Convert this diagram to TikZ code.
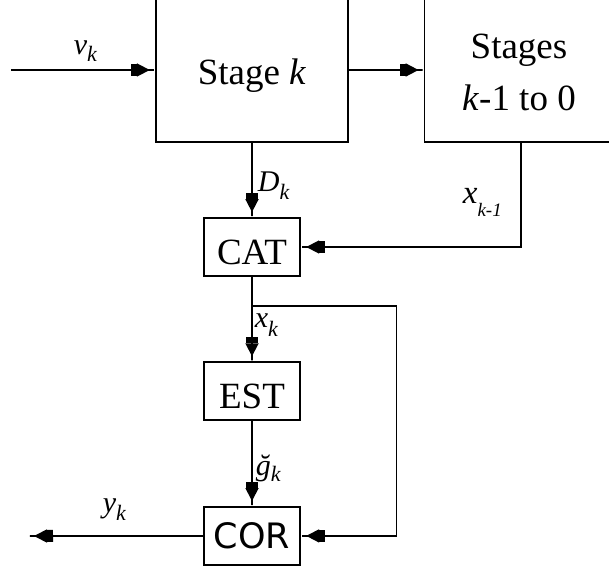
\documentclass[tikz,border=0pt]{standalone}
\usepackage{fontspec}
\setmainfont{Liberation Serif}
\newfontfamily\corfont{DejaVu Sans}
\usetikzlibrary{arrows.meta}
\newcommand\lowsub[3]{\raisebox{-#1}{\fontsize{#2}{#2}\selectfont\itshape #3}}
\begin{document}
\begin{tikzpicture}[x=1pt,y=-1pt, line width=1.8pt,
  box/.style={draw, line width=1.8pt, inner sep=0pt, font=\fontsize{37}{44}\selectfont},
  big/.style={box, minimum width=192.6pt, minimum height=144pt},
  small/.style={box, minimum width=96.6pt, minimum height=58pt, text height=34pt, text depth=0pt},
  lab/.style={anchor=base west, inner sep=0pt, font=\fontsize{30}{30}\selectfont\itshape},
  arr/.style={-{Rectangle[length=6pt,width=12pt,sep=0pt] Triangle[length=13pt,width=13pt,sep=0pt] Rectangle[length=5pt,width=1.8pt,sep=0pt]}}]
\useasboundingbox (0,0) rectangle (609,569);
\clip (0,0) rectangle (609,569);
% blocks
\node[big, text height=30pt, text depth=0pt] (sk) at (252,70) {Stage \textit{k}};
\node[big] (stg) at (520.8,70) {};
\node[inner sep=0pt, align=center, font=\fontsize{37}{52}\selectfont] (stgtxt) at (519,72.5) {Stages\\\textit{k}-1 to 0};
\node[small] (cat) at (252,247) {CAT};
\node[small] (est) at (252,391.2) {EST};
\node[small, font=\corfont\fontsize{35}{40}\selectfont, text height=26pt] (cor) at (252,535.9) {COR};
% free ends
\coordinate (in) at (11,70);
\coordinate (out) at (29,536);
\coordinate (br) at (252,305.7);
\coordinate (fb) at (396.5,305.7);
% connectors
\draw[arr] (in) -- (sk.west);
\draw[arr] (sk.east) -- (stg.west);
\draw[arr] (stg.south) |- (cat.east);
\draw[arr] (sk.south) -- (cat.north);
\draw[arr] (cat.south) -- (est.north);
\draw[arr] (br) -- (fb) |- (cor.east);
\draw[arr] (est.south) -- (cor.north);
\draw[arr] (cor.west) -- (out);
% labels
\node[lab] (lv) at (73,55) {v\lowsub{7pt}{22}{k}};
\node[lab] (ld) at (257,191.7) {D\lowsub{8pt}{22}{k}};
\node[lab, font=\fontsize{33}{33}\selectfont\itshape] (lx1) at (462,203.3) {x\lowsub{13.5pt}{19}{k-1}};
\node[lab] (lx) at (254,327) {x\lowsub{9pt}{22}{k}};
\node[lab] (lg) at (255,475.6) {ğ\lowsub{6pt}{22}{k}};
\node[lab] (ly) at (102,512) {y\lowsub{8pt}{22}{k}};
\end{tikzpicture}
\end{document}
